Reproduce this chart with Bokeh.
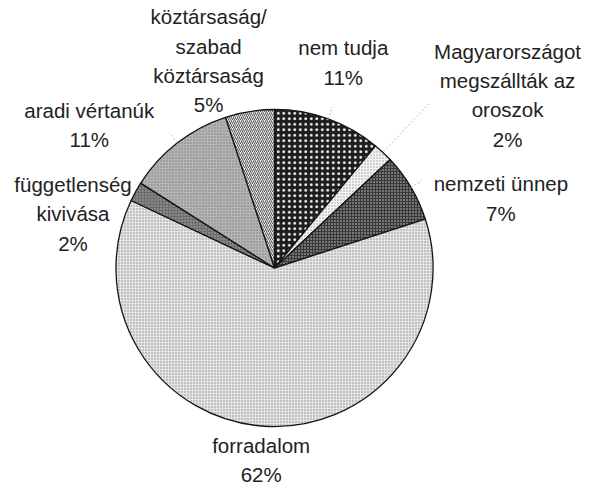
import math
from bokeh.plotting import figure
from bokeh.models import Range1d, ColumnDataSource
from bokeh.core.properties import value
from bokeh.embed import file_html
from bokeh.resources import INLINE

# ---- data (clockwise from 12 o'clock) ----
categories = [
    "nem tudja",
    "Magyarországot\nmegszállták az\noroszok",
    "nemzeti ünnep",
    "forradalom",
    "függetlenség\nkivivása",
    "aradi vértanúk",
    "köztársaság/\nszabad\nköztársaság",
]
percents = [11, 2, 7, 62, 2, 11, 5]

# ---- styling / layout ----
fills = ["#1e1e1e", "#f4f4f4", "#383838", "#e4e4e4", "#6c6c6c", "#b4b4b4", "#e2e2e2"]
hatches = ["dot", "dot", "dot", "dot", "dot", "dot", "right_diagonal_line"]
hatch_colors = ["#ffffff", "#9a9a9a", "#d0d0d0", "#8c8c8c", "#b0b0b0", "#808080", "#5a5a5a"]
hatch_scales = [5.5, 3, 3, 3, 3, 3, 4]
hatch_weights = [1.2, 1, 1, 1, 1, 1, 1]
# layout in reference-image pixels (608x502 image, y from top)
REF_W, REF_H = 608, 502
label_px = [(353, 62), (525, 96), (518, 204), (267, 478), (70, 220), (87, 127), (212, 60)]
leaders = [(1.0, 1.08), (0.98, 1.42), (1.0, 1.08), None, None, (1.0, 1.08), None]
cx_px, cy_px, R_px = 281, 277, 166

W, H = 592, 486
S = 0.955                     # uniform scale reference -> figure
OX = (W - REF_W * S) / 2
OY = 3


def fx(px):
    return OX + px * S


def fy(py):
    return H - (OY + py * S)


p = figure(width=W, height=H, output_backend="svg", toolbar_location=None,
           x_range=Range1d(0, W), y_range=Range1d(0, H), min_border=0)
p.axis.visible = False
p.grid.visible = False
p.outline_line_color = None
p.background_fill_color = "white"

cx, cy, R = fx(cx_px), fy(cy_px), R_px * S
total = float(sum(percents))
starts, ends, mids = [], [], []
c = 0.0
for v in percents:
    c0 = c / total
    c1 = (c + v) / total
    starts.append(math.radians(90 - c1 * 360))
    ends.append(math.radians(90 - c0 * 360))
    mids.append(math.radians(90 - (c0 + c1) / 2 * 360))
    c += v

src = ColumnDataSource(dict(
    start=starts, end=ends, fill=fills, hatch=hatches, hcol=hatch_colors,
    hscale=hatch_scales, hweight=hatch_weights,
))
p.wedge(x=cx, y=cy, radius=R, start_angle="start", end_angle="end",
        direction="anticlock", fill_color="fill", line_color="#151515",
        line_width=1.3, hatch_pattern="hatch", hatch_color="hcol",
        hatch_scale="hscale", hatch_weight="hweight", source=src)

# leader lines
for m, ld in zip(mids, leaders):
    if ld is None:
        continue
    r0, r1 = ld
    p.line([cx + R * r0 * math.cos(m), cx + R * r1 * math.cos(m)],
           [cy + R * r0 * math.sin(m), cy + R * r1 * math.sin(m)],
           line_color="#b8b8b8", line_width=1, line_dash="2 2")

texts = [f"{c}\n{v}%" for c, v in zip(categories, percents)]
lsrc = ColumnDataSource(dict(
    x=[fx(lp[0]) for lp in label_px], y=[fy(lp[1]) for lp in label_px], t=texts))
p.text(x="x", y="y", text="t", source=lsrc, text_align="center",
       text_baseline="middle", text_font=value("Liberation Sans"),
       text_font_size=f"{21.5 * S:.1f}px", text_color="#222222",
       text_line_height=1.28)

open("out.html", "w").write(file_html(p, INLINE))
